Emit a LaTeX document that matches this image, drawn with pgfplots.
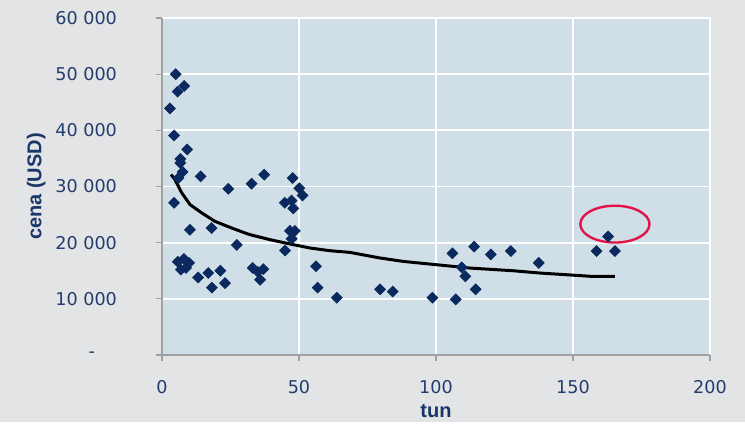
\documentclass[border=0pt]{standalone}
\usepackage{fontspec}
\setmainfont{Liberation Sans}
\newfontfamily\tickfont{DejaVu Sans}
\usepackage{pgfplots}
\pgfplotsset{compat=1.18}
\usetikzlibrary{backgrounds}

\definecolor{bggray}{RGB}{227,228,230}
\definecolor{plotbg}{RGB}{208,222,232}
\definecolor{marknavy}{RGB}{10,42,95}
\definecolor{labelnavy}{RGB}{26,54,104}
\definecolor{ticknavy}{RGB}{35,60,110}
\definecolor{axisgray}{RGB}{160,160,160}
\definecolor{ringred}{RGB}{226,18,75}

\pgfplotstableread{
x y
5.0 50000
8.1 47900
5.7 46900
2.9 43900
4.4 39100
9.2 36600
6.7 34900
6.7 34200
7.5 32600
6.0 31500
14.1 31800
24.2 29600
4.4 27100
10.2 22300
18.1 22600
27.3 19600
32.7 30500
37.3 32100
47.7 31500
50.1 29700
51.3 28400
44.8 27100
47.3 27500
47.9 26100
46.7 22100
48.5 22100
47.3 20700
44.9 18600
33.1 15500
37.0 15300
35.0 14800
35.8 13400
56.2 15800
56.8 12000
63.8 10200
79.6 11700
84.2 11300
98.7 10200
107.2 9900
106.0 18100
113.9 19300
120.0 17900
127.3 18500
137.5 16400
109.4 15600
110.7 14000
114.5 11700
158.6 18500
162.8 21100
165.3 18500
5.8 16600
8.0 17100
9.9 16400
6.9 15200
8.8 15500
13.2 13800
16.9 14600
21.3 15000
18.2 12000
23.0 12800
}\points

\pgfplotstableread{
x y
3.3 32140
4.7 31250
7.2 28880
10.2 26790
14.5 25300
19.3 23800
25.4 22620
30.3 21730
32.1 21430
39.4 20540
46.7 19770
54.0 19050
61.3 18570
68.6 18270
79.6 17270
88.1 16660
100.3 16070
112.4 15480
128.2 15000
138.0 14590
147.7 14290
157.4 13980
165.3 13980
}\trend

\begin{document}
\begin{tikzpicture}
\begin{axis}[
  name=ax,
  scale only axis,
  width=274pt, height=168.5pt,
  xmin=0, xmax=200, ymin=0, ymax=60000,
  axis background/.style={fill=plotbg},
  axis x line=bottom, axis y line=left,
  axis line style={-, draw=axisgray, line width=0.6pt},
  tick style={draw=axisgray, line width=0.6pt},
  tick align=outside, major tick length=3pt,
  grid=major, grid style={white, line width=0.9pt},
  xtick={0,50,100,150,200}, xticklabels={0,50,100,150,200},
  ytick={0,10000,20000,30000,40000,50000,60000},
  yticklabels={{-\kern11pt},{10 000},{20 000},{30 000},{40 000},{50 000},{60 000}},
  ticklabel style={font=\tickfont\fontsize{8.8}{10}\selectfont, text=ticknavy},
  xticklabel style={yshift=-6pt},
  yticklabel style={xshift=-16pt},
  scaled y ticks=false,
  xlabel={tun}, ylabel={cena (USD)},
  label style={font=\bfseries\fontsize{10}{12}\selectfont, text=labelnavy},
  xlabel style={yshift=1.5pt},
  ylabel style={yshift=-2pt},
  clip=false,
]
\addplot[only marks, mark=square*, mark size=1.9pt,
  mark options={rotate=45, fill=marknavy, draw=marknavy}] table[x=x,y=y] {\points};
\addplot[black, line width=1.5pt, no marks] table[x=x,y=y] {\trend};
\draw[ringred, line width=1.2pt] (axis cs:165.3,23300) ellipse [x radius=17.3pt, y radius=9.2pt];
\end{axis}
\begin{scope}[on background layer]
\fill[bggray] ([shift={(-81pt,-33.5pt)}]ax.south west) rectangle ([shift={(291.5pt,177.5pt)}]ax.south west);
\end{scope}
\end{tikzpicture}
\end{document}
